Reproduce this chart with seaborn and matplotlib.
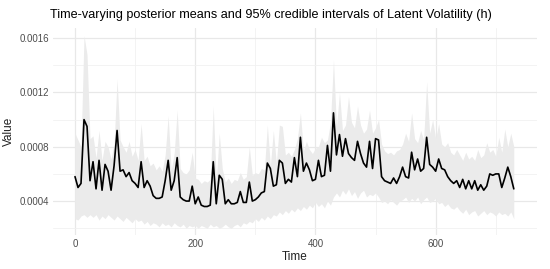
import numpy as np
import pandas as pd
import matplotlib
matplotlib.use('Agg')
import matplotlib.pyplot as plt
import seaborn as sns

# ============================================================
# Data (every 5 time steps, units of 1e-4)
# ============================================================
STEP = 5

mean_e4 = [
    5.8, 5.0, 5.3, 10.0, 9.5, 5.5,
    6.9, 4.9, 7.0, 4.8, 6.7, 6.2, 4.8, 6.6, 9.2,
    6.2, 6.3, 5.8, 6.1, 5.5, 5.3, 5.0, 6.9,
    5.0, 5.5, 5.1, 4.4, 4.2, 4.2, 4.3, 5.5, 7.0, 4.8, 5.5, 7.2, 4.3, 4.1, 4.0, 4.0, 5.1, 3.8,
    4.3, 3.7, 3.6, 3.6, 3.7, 6.9, 3.8, 5.9, 5.6, 3.8, 4.1, 3.8, 3.8, 3.9, 4.7, 3.9, 3.9, 5.4,
    4.0, 4.1, 4.3, 4.6, 4.7, 6.8, 6.4, 5.1, 5.2, 7.0,
    6.8, 5.3, 5.6, 5.4, 7.2, 5.8, 8.7, 6.2, 6.8, 6.3, 5.5, 5.6,
    7.0, 5.8, 5.9, 8.1, 6.2, 10.5,
    7.4, 8.9, 7.3, 8.6, 7.5, 7.2, 7.0, 8.4, 7.5, 6.8, 6.5, 8.4, 6.4, 8.6, 8.5,
    5.8, 5.5, 5.4, 5.3, 5.7, 5.3, 5.8,
    6.5, 5.8, 5.7, 7.6, 6.3, 7.1, 6.2, 6.4, 8.7, 6.7, 6.5, 6.2, 7.1, 6.4, 6.3, 5.8, 5.5, 5.3, 5.5,
    5.0, 5.6, 4.9, 5.5, 4.9, 5.5, 4.8, 5.2, 4.8, 5.1, 6.0, 5.9, 6.0, 6.0, 5.0, 5.7, 6.5, 5.8, 4.9,
]

lower_e4 = [
    2.7, 2.6, 2.9, 3.0, 2.8, 3.0,
    2.8, 3.0, 2.6, 2.9, 2.7, 3.0, 2.8, 2.6, 2.9,
    2.7, 2.5, 2.8, 2.6, 2.4, 2.7, 2.5, 2.6,
    2.3, 2.5, 2.2, 2.4, 2.3, 2.1, 2.4, 2.2, 2.3, 2.1, 2.4, 2.2, 2.1, 2.3, 2.0, 2.2, 2.1, 2.2,
    2.0, 2.2, 2.1, 2.0, 2.3, 2.1, 2.2, 2.0, 2.1, 2.3, 2.1, 2.0, 2.2, 2.3, 2.1, 2.4, 2.3, 2.5,
    2.4, 2.7, 2.5, 2.8, 2.6, 2.9, 2.7, 3.0, 2.9, 3.2,
    3.0, 3.3, 3.1, 3.4, 3.2, 3.5, 3.3, 3.6, 3.4, 3.7, 3.5, 3.9,
    3.6, 3.8, 3.5, 4.0, 3.7, 4.3,
    4.6, 4.3, 4.8, 4.5, 4.9, 4.4, 4.7, 4.2, 4.6, 4.8, 4.3, 4.5, 4.4, 4.6, 4.3,
    3.9, 4.0, 3.8, 4.1, 3.9, 3.7, 4.0,
    4.1, 4.3, 3.9, 4.2, 4.0, 4.3, 3.8, 4.1, 4.3, 3.9, 4.0, 4.2, 3.8, 3.9, 3.6, 3.8, 3.5, 3.4, 3.6,
    3.3, 3.1, 3.4, 3.0, 3.2, 3.3, 2.9, 3.1, 3.3, 3.0, 3.2, 3.1, 2.9, 3.2, 3.0, 3.1, 2.9, 3.2, 2.7,
]

upper_e4 = [
    9.0, 8.5, 8.0, 16.2, 14.8, 8.6,
    8.8, 7.2, 9.2, 7.0, 8.4, 8.0, 7.1, 8.2, 13.0,
    8.5, 8.0, 7.6, 8.4, 7.3, 7.8, 7.0, 9.7,
    7.0, 7.3, 6.6, 6.8, 6.3, 6.6, 6.2, 7.4, 10.3, 6.3, 7.5, 10.7, 6.4, 6.1, 6.0, 6.3, 7.6, 5.7,
    5.6, 5.3, 5.5, 5.4, 5.6, 11.0, 5.5, 9.0, 6.4, 5.4, 5.7, 5.3, 5.6, 5.5, 6.1, 5.6, 5.8, 8.0,
    5.9, 6.1, 6.0, 6.4, 6.3, 9.6, 6.6, 9.2, 6.8, 9.6,
    9.5, 7.4, 7.6, 7.3, 7.8, 8.6, 10.5, 7.7, 8.4, 7.8, 7.5, 7.9,
    8.0, 8.7, 8.3, 8.5, 9.8, 14.4,
    9.5, 12.0, 9.2, 9.6, 11.7, 9.8, 9.4, 11.0, 9.6, 9.0, 9.3, 10.7, 9.0, 9.4, 10.0,
    8.2, 7.7, 7.5, 7.6, 7.4, 7.7, 7.8,
    8.2, 9.0, 8.4, 10.5, 8.6, 8.3, 9.2, 8.5, 12.8, 9.0, 10.0, 8.6, 9.7, 8.2, 8.0, 8.3, 7.6, 7.4, 7.8,
    7.4, 7.0, 7.6, 7.1, 7.3, 7.0, 7.8, 7.2, 7.4, 8.3, 7.6, 7.8, 7.3, 8.7, 7.6, 9.3, 8.0, 9.0, 8.0,
]

x_ticks = [0, 200, 400, 600]
y_ticks = [0.0004, 0.0008, 0.0012, 0.0016]
y_tick_labels = ['0.0004', '0.0008', '0.0012', '0.0016']

TITLE = 'Time-varying posterior means and 95% credible intervals of Latent Volatility (h)'


def build_frame():
    df = pd.DataFrame({
        'mean': np.array(mean_e4) * 1e-4,
        'lower': np.array(lower_e4) * 1e-4,
        'upper': np.array(upper_e4) * 1e-4,
    })
    df['Time'] = df.index * STEP
    return df


def main():
    sns.set_theme(style="whitegrid")
    plt.rcParams['font.family'] = ['Liberation Sans', 'DejaVu Sans']

    df = build_frame()

    fig = plt.figure(figsize=(5.5, 2.69), dpi=100)
    ax = fig.add_axes([53 / 550, 34 / 269, 484 / 550, 207 / 269])
    ax.set_facecolor('white')

    # credible band + posterior mean
    ax.fill_between(df['Time'], df['lower'], df['upper'], color='#ebebeb', linewidth=0, zorder=2)
    sns.lineplot(data=df, x='Time', y='mean', color='black', linewidth=1.2, ax=ax, zorder=3)

    ax.set_xlim(-36.6, 768.6)
    ax.set_ylim(0.00015, 0.001675)
    ax.set_xticks(x_ticks)
    ax.set_xticklabels([str(v) for v in x_ticks])
    ax.set_yticks(y_ticks)
    ax.set_yticklabels(y_tick_labels)
    ax.set_xticks([100, 300, 500, 700], minor=True)
    ax.set_yticks([0.0002, 0.0006, 0.0010, 0.0014], minor=True)

    ax.grid(which='major', color='#e8e8e8', linewidth=0.9)
    ax.grid(which='minor', color='#f1f1f1', linewidth=0.6)
    ax.set_axisbelow(True)
    for s in ax.spines.values():
        s.set_visible(False)
    ax.tick_params(axis='both', which='both', length=0, labelsize=7, labelcolor='#4d4d4d', pad=3)

    ax.set_xlabel('Time', fontsize=8.5, color='#222222', labelpad=1)
    ax.set_ylabel('Value', fontsize=8.5, color='#222222', labelpad=3)
    # title left-aligned with the panel, like ggplot
    ax.set_title(TITLE, loc='left', fontsize=9.1, color='black', pad=7, x=-3 / 484)

    fig.savefig('out.png', dpi=100)


if __name__ == '__main__':
    main()
